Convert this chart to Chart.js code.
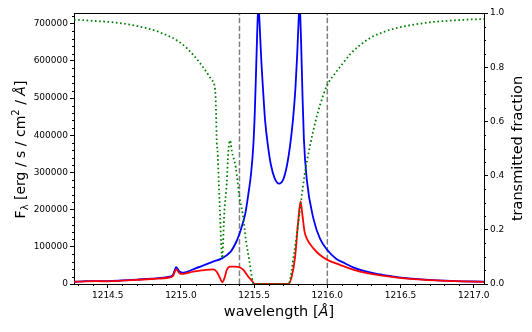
<!DOCTYPE html>
<html>
<head>
  <title>Lyman alpha profile</title>
  <script src="https://cdn.jsdelivr.net/npm/chart.js"></script>
  <style>body { margin: 0; background: #fff; }</style>
</head>
<body>
  <canvas id="myChart" width="532" height="332"></canvas>
  <script>
    // intrinsic profile (blue)
    var blueWave = [1214.27, 1214.35, 1214.42, 1214.5, 1214.6, 1214.7, 1214.8, 1214.92, 1214.945, 1214.968, 1214.99, 1215.01,
      1215.1, 1215.22, 1215.28, 1215.34, 1215.38, 1215.4, 1215.42, 1215.44, 1215.46, 1215.48, 1215.495, 1215.505,
      1215.514, 1215.521, 1215.526, 1215.53, 1215.534, 1215.541, 1215.55, 1215.56, 1215.575, 1215.595, 1215.615,
      1215.64, 1215.67, 1215.7, 1215.725, 1215.745, 1215.765, 1215.782, 1215.794, 1215.802, 1215.807, 1215.811,
      1215.815, 1215.821, 1215.83, 1215.84, 1215.86, 1215.905, 1215.95, 1216.0, 1216.06, 1216.12, 1216.18, 1216.25,
      1216.33, 1216.43, 1216.49, 1216.645, 1216.87, 1217.07];
    var blueFlux = [6000, 7500, 8000, 7500, 9500, 12000, 14500, 19700, 24000, 45000, 34000, 30500,
      42000, 60000, 69000, 87000, 115000, 135000, 160000, 190000, 240000, 300000, 375000, 465000,
      580000, 675000, 728000, 745000, 728000, 670000, 595000, 530000, 440000, 370000, 320000,
      285000, 270000, 282000, 320000, 370000, 440000, 525000, 615000, 690000, 732000, 745000,
      725000, 650000, 515000, 390000, 280000, 176000, 122000, 91500, 68000, 56000, 44000, 35000,
      28000, 21500, 18000, 12600, 8000, 6200];

    // attenuated profile (red)
    var redWave = [1214.27, 1214.35, 1214.42, 1214.5, 1214.6, 1214.7, 1214.8, 1214.92, 1214.945, 1214.968, 1214.99, 1215.01,
      1215.085, 1215.222, 1215.245, 1215.268, 1215.283, 1215.297, 1215.313, 1215.336, 1215.37, 1215.4, 1215.427,
      1215.46, 1215.495, 1215.5, 1215.734, 1215.757, 1215.78, 1215.8, 1215.817, 1215.83, 1215.845, 1215.86,
      1215.905, 1215.95, 1216.0, 1216.09, 1216.18, 1216.27, 1216.43, 1216.49, 1216.645, 1216.87, 1217.07];
    var redFlux = [5800, 7200, 7700, 7200, 9000, 11300, 13500, 17500, 21000, 39500, 29000, 27000,
      33000, 39500, 33000, 15000, 4500, 15000, 37700, 46600, 46600, 45000, 37700,
      19600, 3500, 0, 0, 20000, 73000, 163000, 222000, 185000, 140000, 122000,
      96000, 78000, 65000, 51000, 38000, 29000, 19600, 16500, 11500, 7500, 5800];

    // transmitted fraction (green, right axis)
    var transWave = [1214.27, 1214.4, 1214.55, 1214.7, 1214.85, 1215.0, 1215.085, 1215.165, 1215.21, 1215.234,
      1215.24, 1215.245, 1215.25, 1215.259, 1215.268, 1215.277, 1215.282, 1215.288, 1215.295, 1215.313, 1215.324,
      1215.336, 1215.348, 1215.375, 1215.4, 1215.423, 1215.445, 1215.468, 1215.49, 1215.5, 1215.734, 1215.775,
      1215.81, 1215.844, 1215.878, 1215.919, 1215.95, 1216.0, 1216.05, 1216.1, 1216.16, 1216.22, 1216.3, 1216.4,
      1216.5, 1216.6, 1216.725, 1216.9, 1217.07];
    var transFrac = [0.976, 0.971, 0.965, 0.952, 0.93, 0.889, 0.845, 0.79, 0.753, 0.716,
      0.642, 0.52, 0.494, 0.37, 0.248, 0.125, 0.095, 0.15, 0.25, 0.37, 0.49,
      0.53, 0.49, 0.43, 0.32, 0.256, 0.158, 0.084, 0.01, 0, 0, 0.12,
      0.26, 0.40, 0.50, 0.60, 0.66, 0.735, 0.775, 0.81, 0.85, 0.88, 0.91, 0.933,
      0.948, 0.958, 0.967, 0.974, 0.978];

    // dashed markers
    var cutWave = [1215.4, 1216.0];

    var xTicks = [1214.5, 1215.0, 1215.5, 1216.0, 1216.5, 1217.0];
    var yTicks = [0, 100000, 200000, 300000, 400000, 500000, 600000, 700000];
    var y2Ticks = [0.0, 0.2, 0.4, 0.6, 0.8, 1.0];

    function pairs(xs, ys) {
      return xs.map(function (x, i) { return { x: x, y: ys[i] }; });
    }

    var tickFont = { family: 'DejaVu Sans', size: 9 };
    function setTicks(list) {
      return function (scale) { scale.ticks = list.map(function (v) { return { value: v }; }); };
    }
    var gridOpts = { drawOnChartArea: false, drawTicks: true, tickLength: 4, tickColor: '#000', tickWidth: 1 };
    var borderOpts = { display: true, color: '#000', width: 1 };

    // minor ticks, top spine and axis titles
    var decorations = {
      id: 'decorations',
      afterDraw: function (chart) {
        var c = chart.ctx, a = chart.chartArea, s = chart.scales;
        c.save();
        c.strokeStyle = '#000';
        c.lineWidth = 1;
        c.beginPath();
        for (var i = 12143; i <= 12170; i++) {
          if (i % 5 === 0) continue;
          var px = Math.round(s.x.getPixelForValue(i / 10)) + 0.5;
          c.moveTo(px, a.bottom); c.lineTo(px, a.bottom + 2);
        }
        for (var j = 1; j <= 36; j++) {
          if (j % 5 === 0) continue;
          var py = Math.round(s.y.getPixelForValue(j * 20000)) + 0.5;
          c.moveTo(a.left, py); c.lineTo(a.left - 2, py);
        }
        for (var k = 1; k < 20; k++) {
          if (k % 4 === 0) continue;
          var py2 = Math.round(s.y2.getPixelForValue(k * 0.05)) + 0.5;
          c.moveTo(a.right, py2); c.lineTo(a.right + 2, py2);
        }
        c.moveTo(a.left, Math.round(a.top) + 0.5);
        c.lineTo(a.right, Math.round(a.top) + 0.5);
        c.stroke();

        c.fillStyle = '#000';
        c.textBaseline = 'alphabetic';
        var big = '14.5px "DejaVu Sans"', ital = 'italic 14.5px "DejaVu Sans"', small = '10px "DejaVu Sans"';
        var mid = '14px "DejaVu Sans"', midItal = 'italic 14px "DejaVu Sans"';

        function drawParts(parts, cx, cy, rotate) {
          c.save();
          c.translate(cx, cy);
          if (rotate) c.rotate(-Math.PI / 2);
          var total = 0;
          parts.forEach(function (p) { c.font = p[1]; total += c.measureText(p[0]).width; });
          var x = -total / 2;
          parts.forEach(function (p) {
            c.font = p[1];
            c.fillText(p[0], x, p[2] || 0);
            x += c.measureText(p[0]).width;
          });
          c.restore();
        }

        drawParts([['wavelength [', big], ['\u00c5', ital], [']', big]], (a.left + a.right) / 2, 316, false);
        drawParts([['F', mid], ['\u03bb', small, 3], [' [erg / s / cm', mid], ['2', small, -6], [' / ', mid], ['\u00c5', midItal], [']', mid]],
          25, (a.top + a.bottom) / 2 + 1, true);
        drawParts([['transmitted fraction', big]], 521.5, (a.top + a.bottom) / 2, true);
        c.restore();
      }
    };

    var ctx = document.getElementById('myChart').getContext('2d');
    var myChart = new Chart(ctx, {
      type: 'line',
      data: {
        datasets: [
          {
            label: 'transmission',
            data: pairs(transWave, transFrac),
            yAxisID: 'y2',
            borderColor: 'green',
            borderWidth: 1.8,
            borderDash: [1.6, 2.6],
            cubicInterpolationMode: 'monotone',
            pointRadius: 0,
            order: 0
          },
          {
            label: 'attenuated',
            data: pairs(redWave, redFlux),
            yAxisID: 'y',
            borderColor: '#ff0000',
            borderWidth: 1.8,
            cubicInterpolationMode: 'monotone',
            pointRadius: 0,
            order: 1
          },
          {
            label: 'intrinsic',
            data: pairs(blueWave, blueFlux),
            yAxisID: 'y',
            borderColor: '#0000ff',
            borderWidth: 1.8,
            cubicInterpolationMode: 'monotone',
            pointRadius: 0,
            order: 2
          },
          {
            label: 'cut low',
            data: [{ x: cutWave[0], y: 0 }, { x: cutWave[0], y: 1 }],
            yAxisID: 'y2',
            borderColor: 'gray',
            borderWidth: 1.5,
            borderDash: [5.5, 2.4],
            pointRadius: 0,
            order: 3
          },
          {
            label: 'cut high',
            data: [{ x: cutWave[1], y: 0 }, { x: cutWave[1], y: 1 }],
            yAxisID: 'y2',
            borderColor: 'gray',
            borderWidth: 1.5,
            borderDash: [5.5, 2.4],
            pointRadius: 0,
            order: 3
          }
        ]
      },
      options: {
        responsive: false,
        animation: false,
        layout: { padding: { top: 13, left: 0, right: 0, bottom: 0 } },
        plugins: { legend: { display: false }, tooltip: { enabled: false } },
        scales: {
          x: {
            type: 'linear',
            position: 'bottom',
            min: 1214.27,
            max: 1217.07,
            afterBuildTicks: setTicks(xTicks),
            afterFit: function (s) { s.height = 48; },
            grid: gridOpts,
            border: borderOpts,
            ticks: {
              font: tickFont, color: '#000', padding: 2, maxRotation: 0, autoSkip: false,
              callback: function (v) { return Number(v).toFixed(1); }
            }
          },
          y: {
            type: 'linear',
            position: 'left',
            min: 0,
            max: 729000,
            afterBuildTicks: setTicks(yTicks),
            afterFit: function (s) { s.width = 74; },
            grid: gridOpts,
            border: borderOpts,
            ticks: {
              font: tickFont, color: '#000', padding: 2, autoSkip: false,
              callback: function (v) { return String(v); }
            }
          },
          y2: {
            type: 'linear',
            position: 'right',
            min: 0,
            max: 1,
            afterBuildTicks: setTicks(y2Ticks),
            afterFit: function (s) { s.width = 48; },
            grid: gridOpts,
            border: borderOpts,
            ticks: {
              font: tickFont, color: '#000', padding: 2, autoSkip: false,
              callback: function (v) { return Number(v).toFixed(1); }
            }
          }
        }
      },
      plugins: [decorations]
    });
  </script>
</body>
</html>
